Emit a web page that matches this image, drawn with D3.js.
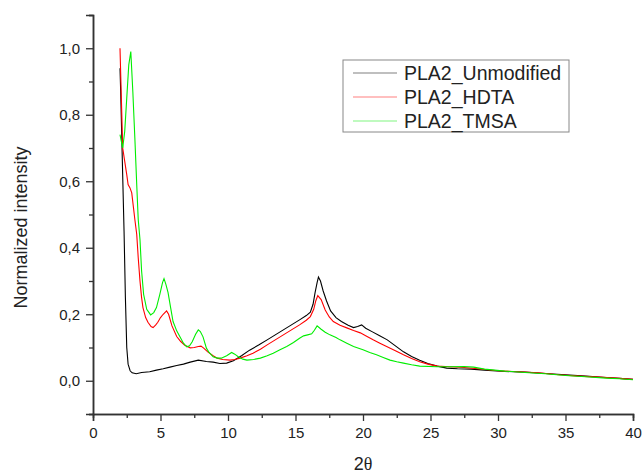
<!DOCTYPE html>
<html>
<head>
<meta charset="utf-8">
<script src="https://cdn.jsdelivr.net/npm/d3@7"></script>
<style>
  body { margin: 0; background: #fff; }
  text { font-family: "Liberation Sans", Arial, sans-serif; fill: #222; }
</style>
</head>
<body>
<div id="chart"></div>
<script>
const width = 643,
    height = 473,
    margin = {top: 15, right: 10, bottom: 59, left: 93};

// series: [2theta, normalized intensity]
const unmodified = [[2.0,0.94],[2.05,0.87],[2.15,0.7],[2.3,0.45],[2.4,0.25],[2.5,0.1],[2.6,0.05],[2.75,0.03],[2.9,0.024],[3.2,0.021],[3.6,0.025],[4.2,0.027],[4.7,0.032],[5.2,0.036],[5.7,0.041],[6.2,0.046],[6.7,0.05],[7.2,0.056],[7.8,0.062],[8.4,0.058],[8.9,0.056],[9.4,0.052],[9.9,0.053],[10.4,0.06],[11.0,0.075],[11.6,0.092],[12.3,0.108],[12.9,0.123],[13.5,0.138],[14.1,0.153],[14.7,0.168],[15.3,0.183],[15.8,0.196],[16.1,0.206],[16.3,0.23],[16.45,0.265],[16.6,0.295],[16.7,0.312],[16.85,0.3],[17.05,0.27],[17.3,0.24],[17.6,0.21],[18.0,0.19],[18.4,0.178],[18.9,0.167],[19.3,0.16],[19.6,0.163],[19.9,0.168],[20.2,0.158],[20.7,0.147],[21.2,0.136],[21.8,0.123],[22.4,0.105],[23.0,0.087],[23.6,0.073],[24.2,0.062],[24.8,0.052],[25.5,0.044],[26.2,0.038],[27.0,0.036],[28.0,0.035],[29.0,0.032],[30.5,0.028],[32.0,0.026],[33.5,0.022],[35.0,0.018],[36.5,0.014],[38.0,0.01],[39.0,0.007],[40.0,0.004]];

const hdta = [[2.0,1.0],[2.1,0.85],[2.2,0.70],[2.35,0.66],[2.5,0.62],[2.6,0.59],[2.74,0.58],[2.87,0.565],[3.0,0.52],[3.1,0.485],[3.24,0.44],[3.35,0.37],[3.48,0.30],[3.6,0.25],[3.7,0.22],[3.9,0.19],[4.07,0.176],[4.3,0.163],[4.45,0.16],[4.65,0.168],[4.8,0.176],[5.0,0.19],[5.2,0.2],[5.45,0.21],[5.6,0.2],[5.85,0.165],[6.2,0.133],[6.5,0.118],[6.8,0.107],[7.2,0.099],[7.5,0.1],[7.8,0.103],[8.0,0.104],[8.2,0.098],[8.5,0.087],[8.9,0.075],[9.2,0.068],[9.6,0.064],[10.15,0.062],[10.5,0.064],[10.9,0.068],[11.4,0.075],[11.85,0.083],[12.4,0.095],[12.9,0.108],[13.5,0.123],[14.1,0.138],[14.7,0.153],[15.3,0.168],[15.8,0.182],[16.1,0.193],[16.35,0.215],[16.5,0.24],[16.65,0.256],[16.9,0.244],[17.2,0.213],[17.5,0.192],[17.8,0.178],[18.3,0.167],[18.8,0.159],[19.3,0.151],[19.8,0.144],[20.3,0.133],[20.75,0.123],[21.25,0.113],[21.75,0.103],[22.4,0.09],[23.0,0.078],[23.6,0.067],[24.2,0.057],[24.8,0.05],[25.5,0.044],[26.4,0.042],[27.5,0.04],[28.5,0.036],[30.0,0.03],[31.5,0.027],[33.0,0.024],[34.5,0.018],[36.0,0.014],[37.5,0.011],[39.0,0.007],[40.0,0.004]];

const tmsa = [[2.0,0.74],[2.1,0.72],[2.2,0.70],[2.35,0.75],[2.5,0.85],[2.65,0.95],[2.8,0.99],[2.95,0.87],[3.1,0.73],[3.25,0.58],[3.35,0.485],[3.48,0.425],[3.6,0.33],[3.75,0.26],[3.98,0.215],[4.27,0.198],[4.5,0.205],[4.7,0.22],[4.95,0.26],[5.15,0.295],[5.26,0.307],[5.4,0.29],[5.56,0.265],[5.75,0.22],[5.93,0.178],[6.2,0.15],[6.44,0.132],[6.7,0.113],[6.95,0.102],[7.15,0.105],[7.35,0.117],[7.6,0.14],[7.8,0.153],[7.95,0.148],[8.15,0.132],[8.4,0.098],[8.6,0.085],[8.9,0.072],[9.2,0.068],[9.5,0.068],[9.9,0.075],[10.27,0.085],[10.5,0.08],[10.76,0.072],[11.1,0.065],[11.4,0.062],[11.9,0.064],[12.4,0.068],[12.9,0.075],[13.35,0.083],[13.85,0.093],[14.35,0.103],[14.85,0.115],[15.3,0.128],[15.6,0.135],[15.9,0.138],[16.2,0.141],[16.4,0.152],[16.6,0.165],[16.9,0.155],[17.2,0.146],[17.55,0.138],[18.0,0.13],[18.3,0.123],[18.8,0.113],[19.3,0.103],[20.0,0.093],[20.5,0.085],[21.0,0.078],[21.5,0.07],[22.0,0.062],[22.5,0.057],[23.0,0.053],[23.6,0.048],[24.2,0.044],[25.5,0.042],[26.4,0.042],[27.5,0.043],[28.2,0.041],[29.0,0.035],[30.5,0.029],[32.0,0.025],[33.5,0.021],[35.0,0.016],[36.5,0.012],[38.0,0.008],[39.0,0.006],[40.0,0.003]];

const seriesNames = ["PLA2_Unmodified", "PLA2_HDTA", "PLA2_TMSA"];
const seriesColors = ["#000000", "#ff0000", "#00ee00"];
const xTicks = [0, 5, 10, 15, 20, 25, 30, 35, 40];
const yTicks = [0, 0.2, 0.4, 0.6, 0.8, 1.0];

let svg = d3.select("#chart").append("svg")
    .attr("width", width)
    .attr("height", height);

let x = d3.scaleLinear()
    .domain([0, 40])
    .range([margin.left, width - margin.right]);

let y = d3.scaleLinear()
    .domain([-0.1, 1.1])
    .range([height - margin.bottom, margin.top]);

const comma = d => d3.format(".1f")(d).replace(".", ",");

// x axis
let gx = svg.append("g")
    .attr("transform", `translate(0,${height - margin.bottom})`);
gx.call(d3.axisBottom(x).tickValues(d3.range(2.5, 40, 5)).tickSize(4).tickFormat(""));
gx.call(g => g.append("g").call(d3.axisBottom(x).tickValues(xTicks).tickSize(7).tickPadding(6)));

// y axis
let gy = svg.append("g")
    .attr("transform", `translate(${margin.left},0)`);
gy.call(d3.axisLeft(y).tickValues(d3.range(-0.1, 1.15, 0.2)).tickSize(4).tickFormat(""));
gy.call(g => g.append("g").call(d3.axisLeft(y).tickValues(yTicks).tickSize(7).tickPadding(6).tickFormat(comma)));

svg.selectAll(".domain").attr("stroke", "#333").attr("stroke-width", 1.5);
svg.selectAll(".tick line").attr("stroke", "#333").attr("stroke-width", 1.3);
svg.selectAll(".tick text")
    .style("font-family", "'Liberation Sans', Arial, sans-serif")
    .style("font-size", "15px")
    .attr("fill", "#222");

// axis titles
svg.append("text")
    .attr("transform", `translate(27,${(y(1.1) + y(-0.1)) / 2 + 13}) rotate(-90)`)
    .attr("text-anchor", "middle")
    .style("font-size", "18px")
    .text("Normalized intensity");

let xt = svg.append("text")
    .attr("x", x(20))
    .attr("y", 470)
    .attr("text-anchor", "middle")
    .style("font-size", "18px");
xt.append("tspan").text("2");
xt.append("tspan").style("font-family", "'Liberation Serif', serif").text("θ");

// curves
let line = d3.line()
    .x(d => x(d[0]))
    .y(d => y(d[1]));

[unmodified, hdta, tmsa].forEach((s, i) => {
    svg.append("path")
        .datum(s)
        .attr("fill", "none")
        .attr("stroke", seriesColors[i])
        .attr("stroke-width", 1.1)
        .attr("d", line);
});

// legend
let legend = svg.append("g").attr("transform", "translate(343,60)");
legend.append("rect")
    .attr("width", 226)
    .attr("height", 72)
    .attr("fill", "#fff")
    .attr("stroke", "#888")
    .attr("stroke-width", 1);

seriesNames.forEach((n, i) => {
    let row = legend.append("g").attr("transform", `translate(0,${13 + i * 24})`);
    row.append("line")
        .attr("x1", 10).attr("x2", 54)
        .attr("stroke", seriesColors[i])
        .attr("stroke-opacity", 0.5)
        .attr("stroke-width", 1);
    row.append("text")
        .attr("x", 61)
        .attr("dy", "0.35em")
        .style("font-size", "19.5px")
        .text(n);
});
</script>
</body>
</html>
